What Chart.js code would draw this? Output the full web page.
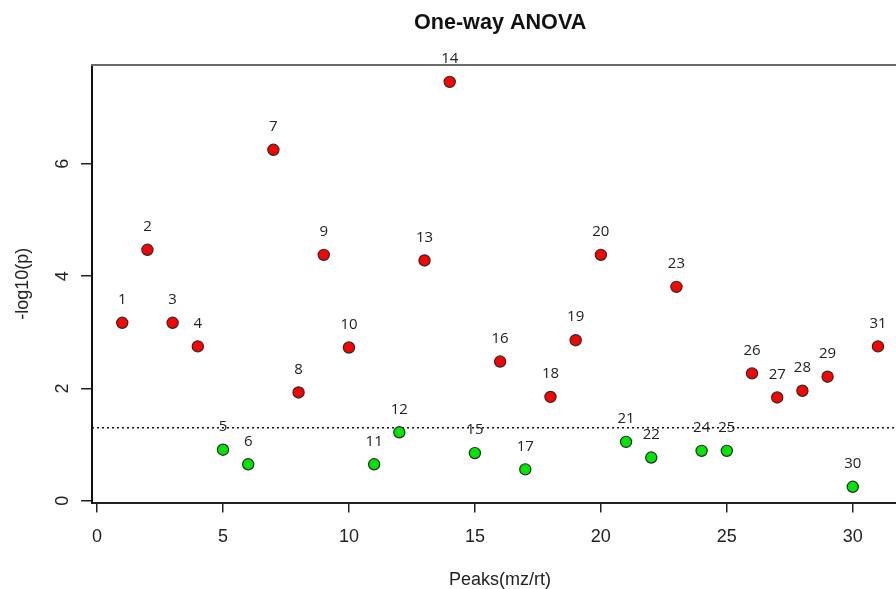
<!DOCTYPE html>
<html><head><meta charset="utf-8">
<script src="https://cdn.jsdelivr.net/npm/chart.js@4.4.1/dist/chart.umd.min.js"></script>
<style>html,body{margin:0;padding:0;overflow:hidden;background:#fff}#wrap{width:915px;height:589px}</style>
</head><body><div id="wrap"><canvas id="c" width="915" height="589"></canvas></div>
<script>
// ---- data ----
const peaks = [1,2,3,4,5,6,7,8,9,10,11,12,13,14,15,16,17,18,19,20,21,22,23,24,25,26,27,28,29,30,31];
const negLogP = [3.17,4.47,3.17,2.75,0.91,0.65,6.25,1.93,4.38,2.73,0.65,1.22,4.28,7.46,0.85,2.48,0.56,1.85,2.86,4.38,1.05,0.77,3.81,0.89,0.89,2.27,1.84,1.96,2.21,0.25,2.75];
const threshold = 1.3;
const xTicks = [0,5,10,15,20,25,30];
const yTicks = [0,2,4,6];
const xRange = [-0.2, 32.2];
const yRange = [-0.03, 7.76];

const points = peaks.map((p, i) => ({x: p, y: negLogP[i]}));
const cutLine = [{x: xRange[0], y: threshold}, {x: xRange[1], y: threshold}];

const topBorder = {
  id: 'topBorder',
  afterDraw(chart) {
    const {ctx, chartArea: a} = chart;
    ctx.save();
    ctx.strokeStyle = '#6a6a6a';
    ctx.lineWidth = 2;
    ctx.beginPath();
    ctx.moveTo(a.left - 1, a.top);
    ctx.lineTo(a.right, a.top);
    ctx.stroke();
    ctx.restore();
  }
};
const pointLabels = {
  id: 'pointLabels',
  afterDatasetsDraw(chart) {
    const {ctx} = chart;
    const meta = chart.getDatasetMeta(0);
    ctx.save();
    ctx.font = '15px "Open Sans"';
    ctx.fillStyle = '#222';
    ctx.textAlign = 'center';
    ctx.textBaseline = 'middle';
    meta.data.forEach((el, i) => {
      ctx.fillText(String(peaks[i]), el.x, el.y - 23);
    });
    ctx.restore();
  }
};

const axisFont = {family: '"Liberation Sans", Arial, sans-serif', size: 18};

new Chart(document.getElementById('c'), {
  data: {
    datasets: [
      {
        type: 'scatter',
        data: points,
        pointRadius: 5.6,
        pointBorderWidth: 1.2,
        pointBorderColor: '#2a2a2a',
        pointBackgroundColor: ctx => (negLogP[ctx.dataIndex] > threshold ? '#FF0000' : '#00E600')
      },
      {
        type: 'line',
        data: cutLine,
        borderColor: '#111',
        borderWidth: 1.5,
        borderDash: [2, 3],
        pointRadius: 0,
        fill: false
      }
    ]
  },
  options: {
    responsive: false,
    animation: false,
    layout: {padding: 0},
    plugins: {
      legend: {display: false},
      tooltip: {enabled: false},
      title: {
        display: true,
        text: 'One-way ANOVA',
        fullSize: false,
        color: '#111',
        font: {family: '"Liberation Sans", Arial, sans-serif', size: 21.6, weight: 'bold', lineHeight: 1.2},
        padding: {top: 10.4, bottom: 28.7}
      }
    },
    scales: {
      x: {
        type: 'linear',
        min: xRange[0], max: xRange[1],
        afterBuildTicks: s => { s.ticks = xTicks.map(v => ({value: v})); },
        afterFit: s => { s.height = 86.5; },
        grid: {drawOnChartArea: false, drawTicks: true, tickLength: 10, color: '#222', lineWidth: 1.5},
        border: {display: true, color: '#222', width: 2},
        ticks: {font: axisFont, color: '#222', padding: 14, maxRotation: 0, minRotation: 0},
        title: {display: true, text: 'Peaks(mz/rt)', color: '#222', font: {family: axisFont.family, size: 18, lineHeight: 1.0}, padding: {top: 0, bottom: 0}}
      },
      y: {
        type: 'linear',
        min: yRange[0], max: yRange[1],
        afterBuildTicks: s => { s.ticks = yTicks.map(v => ({value: v})); },
        afterFit: s => { s.width = 92; },
        grid: {drawOnChartArea: false, drawTicks: true, tickLength: 11, color: '#222', lineWidth: 1.5},
        border: {display: true, color: '#111', width: 2},
        ticks: {font: axisFont, color: '#222', padding: 13, minRotation: 90, maxRotation: 90, crossAlign: 'center'},
        title: {display: true, text: '-log10(p)', color: '#222', font: axisFont, padding: {top: 12, bottom: 0}}
      }
    }
  },
  plugins: [topBorder, pointLabels]
});
</script>
</body></html>
